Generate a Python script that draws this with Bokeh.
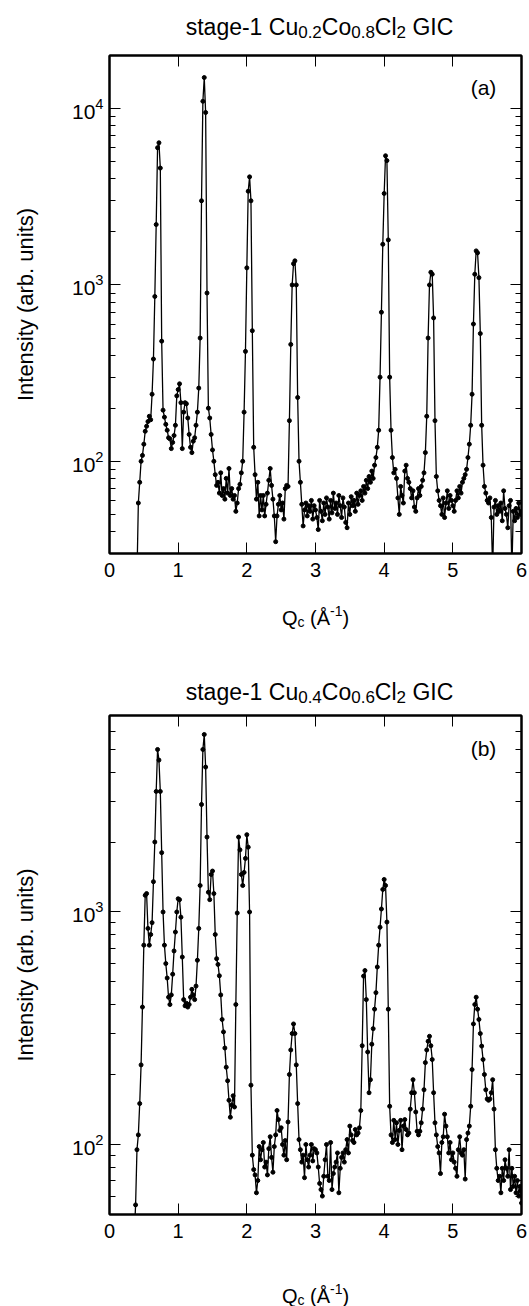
import numpy as np
from bokeh.plotting import figure
from bokeh.models import (Range1d, FixedTicker, LinearAxis, LogAxis, Label,
                          CustomJSTickFormatter, ColumnDataSource)
from bokeh.layouts import column
from bokeh.embed import file_html
from bokeh.resources import INLINE

# ---------------- data ----------------
q_step = 0.02

# panel (a): stage-1 Cu0.2Co0.8Cl2 GIC, Q from 0.40 in steps of 0.02
q_start_a = 0.40
intensity_a = [
    22, 58, 76, 100, 108, 125, 148, 158, 168, 180,            # 0.40
    172, 240, 380, 860, 2200, 6000, 6400, 4600, 480, 195,     # 0.60
    178, 162, 150, 136, 134, 118, 128, 140, 160, 235,         # 0.80
    255, 275, 215, 118, 190, 215, 212, 176, 142, 120,         # 1.00
    112, 130, 136, 160, 190, 260, 500, 3000, 11000, 15000,    # 1.20
    9500, 900, 200, 176, 142, 116, 100, 84, 73, 76,           # 1.40
    66, 86, 64, 70, 61, 80, 66, 91, 64, 70,                   # 1.60
    61, 64, 52, 58, 70, 74, 86, 100, 190, 420,                # 1.80
    1250, 3400, 4100, 3000, 550, 120, 84, 61, 76, 49,         # 2.00
    64, 53, 64, 49, 57, 66, 78, 91, 73, 61,                   # 2.20
    49, 35, 49, 57, 64, 53, 58, 47, 70, 73,                   # 2.40
    72, 170, 460, 1000, 1320, 1370, 1000, 230, 100, 76,       # 2.60
    57, 43, 53, 58, 49, 56, 52, 60, 47, 56,                   # 2.80
    53, 48, 41, 60, 52, 46, 58, 50, 62, 55,                   # 3.00
    47, 60, 51, 66, 54, 58, 50, 64, 56, 48,                   # 3.20
    62, 55, 45, 42, 58, 50, 63, 56, 60, 52,                   # 3.40
    66, 57, 64, 68, 60, 72, 66, 78, 70, 82,                   # 3.60
    76, 88, 80, 95, 105, 120, 150, 300, 700, 1700,            # 3.80
    3300, 5400, 5070, 1800, 300, 150, 105, 86, 90, 80,        # 4.00
    62, 50, 72, 64, 58, 88, 95, 80, 76, 70,                   # 4.20
    62, 68, 55, 52, 62, 70, 64, 72, 78, 86,                   # 4.40
    112, 180, 500, 1000, 1180, 1150, 650, 170, 82, 68,        # 4.60
    60, 56, 50, 62, 48, 58, 68, 54, 64, 60,                   # 4.80
    56, 52, 60, 68, 62, 72, 66, 76, 80, 84,                   # 5.00
    90, 105, 125, 160, 240, 600, 1150, 1560, 1520, 1100,      # 5.20
    530, 160, 95, 72, 66, 60, 58, 62, 48, 24,                 # 5.40
    55, 60, 50, 56, 52, 58, 46, 68, 54, 50,                   # 5.60
    42, 56, 60, 24, 52, 46, 54, 48, 58, 50,                   # 5.80
    52,                                                       # 6.00
]

# panel (b): stage-1 Cu0.4Co0.6Cl2 GIC, Q from 0.36 in steps of 0.02
q_start_b = 0.36
intensity_b = [
    40,                                                       # 0.36
    55, 95, 110, 150, 220, 390, 720, 1180, 1200, 850,         # 0.38
    720, 800, 900, 1350, 2000, 3300, 5000, 4500, 3300, 1800,  # 0.58
    1000, 720, 600, 520, 430, 400, 440, 540, 680, 820,        # 0.78
    1000, 1140, 1130, 950, 640, 420, 395, 405, 390, 400,      # 0.98
    430, 465, 440, 420, 480, 620, 850, 1300, 2900, 5000,      # 1.18
    5800, 4200, 2100, 1216, 1130, 1450, 1500, 1200, 800, 630, # 1.38
    595, 532, 440, 345, 305, 260, 215, 188, 155, 131,         # 1.58
    148, 162, 145, 400, 990, 2100, 1850, 1450, 1300, 1480,    # 1.78
    1700, 2150, 1900, 1000, 180, 90, 78, 74, 62, 70,          # 1.98
    98, 86, 95, 102, 80, 84, 74, 96, 108, 88,                 # 2.18
    76, 98, 110, 140, 128, 115, 118, 100, 90, 104,            # 2.38
    86, 125, 200, 255, 300, 330, 300, 220, 150, 105,          # 2.58
    95, 84, 90, 72, 100, 86, 80, 90, 100, 85,                 # 2.78
    96, 95, 92, 80, 68, 64, 60, 73, 86, 100,                  # 2.98
    73, 70, 102, 64, 75, 80, 84, 92, 62, 79,                  # 3.18
    88, 92, 84, 95, 105, 92, 120, 110, 104, 102,              # 3.38
    116, 110, 112, 118, 140, 266, 530, 560, 420, 250,         # 3.58
    167, 190, 270, 315, 382, 450, 580, 720, 860, 1030,        # 3.78
    1250, 1380, 1300, 905, 382, 146, 110, 102, 127, 105,      # 3.98
    124, 100, 115, 127, 95, 120, 128, 116, 110, 112,          # 4.18
    142, 167, 190, 167, 138, 114, 110, 114, 124, 142,         # 4.38
    172, 225, 255, 278, 292, 266, 232, 167, 124, 110,         # 4.58
    98, 92, 75, 102, 108, 135, 120, 108, 92, 102,             # 4.78
    86, 92, 84, 79, 73, 95, 108, 92, 90, 95,                  # 4.98
    71, 105, 112, 120, 146, 210, 330, 400, 430, 382,          # 5.18
    345, 300, 265, 232, 200, 172, 157, 155, 157, 167,         # 5.38
    190, 142, 95, 79, 70, 73, 62, 79, 70, 86,                 # 5.58
    79, 73, 95, 64, 79, 66, 73, 62, 70, 60,                   # 5.78
    66, 56,                                                   # 5.98
]

x_ticks = [0, 1, 2, 3, 4, 5, 6]
x_range = (0, 6)
y_range_a = (30, 20000)
y_range_b = (50, 7000)
y_major_a = [1e2, 1e3, 1e4]
y_major_b = [1e2, 1e3]

title_a = [("stage-1 Cu", "m"), ("0.2", "s"), ("Co", "m"), ("0.8", "s"),
           ("Cl", "m"), ("2", "s"), (" GIC", "m")]
title_b = [("stage-1 Cu", "m"), ("0.4", "s"), ("Co", "m"), ("0.6", "s"),
           ("Cl", "m"), ("2", "s"), (" GIC", "m")]
x_label = [("Q", "m"), ("c", "s"), (" (Å", "m"), ("-1", "u"), (")", "m")]
y_label = "Intensity (arb. units)"
tag_a = "(a)"
tag_b = "(b)"

# ---------------- styling helpers ----------------
FONT = "Liberation Sans"
W = 529
FRAME_L = 109
FRAME_W = 412
FRAME_R = FRAME_L + FRAME_W
CW = {'s': 500, 't': 278, 'a': 556, 'g': 556, 'e': 556, '-': 333, '1': 556,
      ' ': 278, 'C': 722, 'u': 556, '0': 556, '.': 278, '2': 556, 'o': 556,
      '8': 556, 'l': 222, 'G': 778, 'I': 278, 'Q': 778, 'c': 500, '(': 333,
      'Å': 667, ')': 333, '4': 556, '6': 556}


def tw(s, size):
    return sum(CW.get(ch, 556) for ch in s) * size / 1000.0


def text_strip(height):
    """Blank figure (frame aligned with the panels) holding composed texts.
    Its x range is the page pixel range of the frame, y runs downward."""
    f = figure(width=W, height=height, x_range=Range1d(FRAME_L, FRAME_R),
               y_range=Range1d(height, 0),
               output_backend="svg", toolbar_location=None,
               x_axis_location=None, y_axis_location=None,
               min_border_left=FRAME_L, min_border_right=W - FRAME_R,
               min_border_top=0, min_border_bottom=0, outline_line_color=None)
    f.xgrid.visible = False
    f.ygrid.visible = False
    return f


def add_runs(f, runs, cx, base_y, main, small, dsub, dsup):
    sizes = {"m": main, "s": small, "u": small}
    dys = {"m": 0, "s": dsub, "u": -dsup}   # y axis points down in strips
    total = sum(tw(t, sizes[k]) for t, k in runs)
    x = cx - total / 2.0
    for t, k in runs:
        sz = sizes[k]
        lead = len(t) - len(t.lstrip(" "))
        x += tw(" " * lead, sz)
        txt = t.strip(" ")
        f.add_layout(Label(x=x, y=base_y + dys[k], text=txt, text_font=FONT,
                           text_font_size=f"{sz}px", text_color="black",
                           text_align="left", text_baseline="alphabetic"))
        x += tw(txt, sz)


def minor_log(lo, hi):
    out = []
    for e in range(0, 6):
        for m in range(2, 10):
            v = m * 10 ** e
            if lo <= v <= hi:
                out.append(v)
    return out


def style_axis(ax, size="20px"):
    ax.major_tick_in = 11
    ax.major_tick_out = 0
    ax.minor_tick_in = 6
    ax.minor_tick_out = 0
    ax.axis_line_color = "black"
    ax.axis_line_width = 2
    ax.major_tick_line_color = "black"
    ax.minor_tick_line_color = "black"
    ax.major_tick_line_width = 1
    ax.minor_tick_line_width = 1
    ax.major_label_text_font = FONT
    ax.major_label_text_font_size = size
    ax.major_label_text_color = "black"
    ax.axis_label_text_font = FONT
    ax.axis_label_text_font_style = "normal"
    ax.axis_label_text_color = "black"


def panel(q_start, inten, yr, ymaj, tag, height, top, bottom):
    q = q_start + q_step * np.arange(len(inten))
    src = ColumnDataSource(data=dict(q=q, i=np.array(inten, dtype=float)))
    p = figure(width=W, height=height, y_axis_type="log",
               x_range=Range1d(*x_range), y_range=Range1d(*yr),
               output_backend="svg", toolbar_location=None,
               min_border_left=FRAME_L, min_border_right=W - FRAME_R,
               min_border_top=top, min_border_bottom=bottom)
    p.xgrid.visible = False
    p.ygrid.visible = False
    p.outline_line_color = "black"
    p.outline_line_width = 2

    xa = p.xaxis[0]
    xa.ticker = FixedTicker(ticks=x_ticks, minor_ticks=[])
    style_axis(xa, "20px")
    xa.major_label_standoff = 9

    ya = p.yaxis[0]
    ya.ticker = FixedTicker(ticks=ymaj, minor_ticks=minor_log(*yr))
    style_axis(ya, "21px")
    ya.major_label_standoff = 6
    ya.axis_label = y_label
    ya.axis_label_text_font_size = "22px"
    ya.axis_label_standoff = 31

    blank = "return ''"
    top_ax = LinearAxis(ticker=FixedTicker(ticks=x_ticks[1:-1], minor_ticks=[]),
                        formatter=CustomJSTickFormatter(code=blank))
    style_axis(top_ax, "1px")
    top_ax.major_label_standoff = 0
    p.add_layout(top_ax, "above")

    right_ax = LogAxis(ticker=FixedTicker(ticks=ymaj, minor_ticks=minor_log(*yr)),
                       formatter=CustomJSTickFormatter(code=blank))
    style_axis(right_ax, "1px")
    right_ax.major_label_standoff = 0
    p.add_layout(right_ax, "right")

    p.line("q", "i", source=src, line_color="black", line_width=1.3)
    p.scatter("q", "i", source=src, size=4, marker="circle",
              fill_color="black", line_color="black")

    p.add_layout(Label(x=374, y=466, x_units="screen", y_units="screen",
                       text=tag, text_font=FONT, text_font_size="21px",
                       text_color="black", text_align="center",
                       text_baseline="middle"))
    return p


FRAME_CX = FRAME_L + FRAME_W / 2.0
T_MAIN, T_SUB = 23, 17
X_MAIN, X_SUB = 20, 14

# page 0..40 : title (a)
head_a = text_strip(40)
add_runs(head_a, title_a, FRAME_CX + 4, 26, T_MAIN, T_SUB, 5, 0)

# page 40..590 : panel (a) with frame 55..553
pa = panel(q_start_a, intensity_a, y_range_a, y_major_a, tag_a,
           height=550, top=15, bottom=37)

# page 590..712 : x label (a) and title (b)
mid = text_strip(122)
add_runs(mid, x_label, FRAME_CX, 617 - 590, X_MAIN, X_SUB, 4, 7)
add_runs(mid, title_b, FRAME_CX + 4, 691 - 590, T_MAIN, T_SUB, 5, 0)

# page 712..1250 : panel (b) with frame 715..1214
pb = panel(q_start_b, intensity_b, y_range_b, y_major_b, tag_b,
           height=538, top=3, bottom=36)

# page 1250..1306 : x label (b)
foot = text_strip(56)
add_runs(foot, x_label, FRAME_CX, 1295 - 1250, X_MAIN, X_SUB, 4, 7)

layout = column(head_a, pa, mid, pb, foot, spacing=0)
open("out.html", "w").write(file_html(layout, INLINE))
